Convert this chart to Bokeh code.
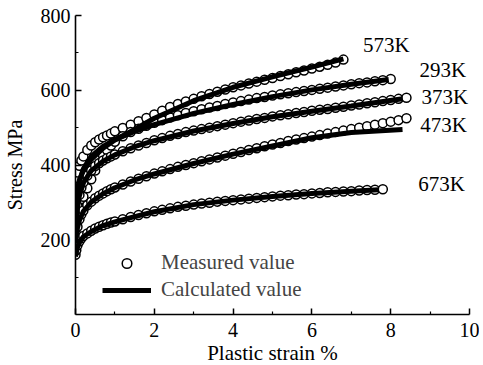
from bokeh.plotting import figure
from bokeh.models import Range1d, FixedTicker, Legend, LegendItem, Label
from bokeh.embed import file_html
from bokeh.resources import INLINE

# ---- data ----
strain = [0, 0.02, 0.05, 0.1, 0.15, 0.2, 0.3, 0.4, 0.5, 0.6,
          0.7, 0.8, 0.9, 1.0, 1.2, 1.4, 1.6, 1.8, 2.0, 2.2,
          2.4, 2.6, 2.8, 3.0, 3.2, 3.4, 3.6, 3.8, 4.0, 4.2,
          4.4, 4.6, 4.8, 5.0, 5.2, 5.4, 5.6, 5.8, 6.0, 6.2,
          6.4, 6.6, 6.8, 7.0, 7.2, 7.4, 7.6, 7.8, 8.0, 8.2,
          8.4]

meas_573 = [350, 365, 380, 398, 412, 423, 440, 452, 461, 468,
            474, 479, 484, 490, 499, 508, 517, 526, 535, 545,
            555, 563, 570, 577, 584, 590, 596, 602, 608, 613,
            618, 623, 628, 633, 638, 643, 648, 653, 658, 663,
            668, 674, 682]
meas_293 = [290, 293, 297, 303, 309, 315, 338, 362, 385, 405,
            425, 440, 452, 462, 477, 488, 497, 505, 513, 520,
            527, 533, 539, 544, 549, 554, 558, 563, 567, 571,
            575, 579, 582, 586, 589, 592, 595, 598, 601, 604,
            607, 610, 613, 616, 619, 621, 624, 627, 630]
meas_373 = [235, 262, 290, 320, 340, 354, 372, 385, 397, 405,
            412, 418, 423, 428, 437, 445, 452, 459, 466, 472,
            478, 483, 488, 492, 496, 500, 504, 508, 512, 516,
            519, 523, 526, 530, 533, 536, 539, 542, 545, 548,
            550, 553, 556, 559, 562, 565, 568, 571, 574, 577,
            580]
meas_473 = [195, 215, 235, 255, 268, 278, 292, 302, 311, 318,
            324, 330, 335, 340, 348, 356, 363, 370, 377, 383,
            389, 395, 400, 405, 410, 415, 420, 425, 430, 435,
            440, 445, 450, 455, 459, 464, 468, 472, 476, 480,
            484, 488, 492, 496, 500, 504, 508, 512, 516, 520,
            525]
meas_673 = [160, 172, 185, 196, 204, 210, 217, 224, 230, 235,
            239, 243, 246, 249, 255, 261, 266, 271, 276, 280,
            284, 288, 291, 294, 297, 299, 302, 304, 306, 308,
            310, 312, 314, 316, 318, 319, 321, 322, 324, 325,
            327, 328, 329, 330, 332, 333, 334, 335]

calc_x_573 = [0, 0.05, 0.1, 0.2, 0.4, 0.7, 1.0, 1.5, 2.0, 3.0, 4.0, 5.0, 6.0, 6.8]
calc_573 = [300, 335, 360, 385, 415, 445, 467, 495, 525, 572, 608, 636, 662, 684]
calc_x_293 = [0, 0.05, 0.1, 0.2, 0.4, 0.7, 1.0, 1.5, 2.0, 3.0, 4.0, 5.0, 6.0, 7.0, 7.95]
calc_293 = [280, 330, 358, 390, 423, 450, 468, 490, 508, 538, 562, 583, 601, 616, 629]
calc_x_373 = [0, 0.05, 0.1, 0.2, 0.4, 0.7, 1.0, 1.5, 2.0, 3.0, 4.0, 5.0, 6.0, 7.0, 8.3]
calc_373 = [230, 285, 318, 352, 385, 410, 427, 449, 465, 491, 511, 529, 544, 558, 577]
calc_x_473 = [0, 0.05, 0.1, 0.2, 0.4, 0.7, 1.0, 1.5, 2.0, 3.0, 4.0, 5.0, 6.0, 7.0, 8.3]
calc_473 = [190, 232, 252, 276, 301, 323, 339, 360, 376, 404, 429, 451, 473, 487, 495]
calc_x_673 = [0, 0.05, 0.1, 0.2, 0.4, 0.7, 1.0, 1.5, 2.0, 3.0, 4.0, 5.0, 6.0, 7.0, 7.7]
calc_673 = [155, 180, 193, 208, 222, 238, 248, 262, 275, 294, 306, 316, 324, 330, 334]

temps = ["573K", "293K", "373K", "473K", "673K"]
measured = [meas_573, meas_293, meas_373, meas_473, meas_673]
calc_x = [calc_x_573, calc_x_293, calc_x_373, calc_x_473, calc_x_673]
calc_y = [calc_573, calc_293, calc_373, calc_473, calc_673]

x_ticks = [0, 2, 4, 6, 8, 10]
x_minor = [1, 3, 5, 7, 9]
y_ticks = [200, 400, 600, 800]
y_minor = [100, 300, 500, 700]
x_title = "Plastic strain %"
y_title = "Stress MPa"

FONT = "Liberation Serif"

p = figure(output_backend="svg", toolbar_location=None,
           frame_width=394, frame_height=299,
           min_border_left=70, min_border_right=10,
           min_border_top=15, min_border_bottom=42,
           x_range=Range1d(0, 10), y_range=Range1d(0, 800))
p.outline_line_color = None
p.grid.visible = False
p.background_fill_color = "white"
p.border_fill_color = "white"

for ax in (p.xaxis[0], p.yaxis[0]):
    ax.axis_line_width = 1.6
    ax.axis_line_color = "black"
    ax.major_tick_in = 6
    ax.major_tick_out = 0
    ax.minor_tick_in = 3
    ax.minor_tick_out = 0
    ax.major_tick_line_width = 1.5
    ax.minor_tick_line_width = 1.2
    ax.major_label_text_font = FONT
    ax.major_label_text_font_size = "20px"
    ax.major_label_text_color = "black"
    ax.axis_label_text_font = FONT
    ax.axis_label_text_font_size = "20px"
    ax.axis_label_text_font_style = "normal"
    ax.axis_label_text_color = "black"

p.xaxis[0].ticker = FixedTicker(ticks=x_ticks, minor_ticks=x_minor)
p.yaxis[0].ticker = FixedTicker(ticks=y_ticks, minor_ticks=y_minor)
p.xaxis[0].axis_label = x_title
p.yaxis[0].axis_label = y_title
p.xaxis[0].axis_label_text_font_size = "21px"
p.xaxis[0].major_label_standoff = 8
p.yaxis[0].major_label_standoff = 5
p.xaxis[0].axis_label_standoff = 1
p.yaxis[0].axis_label_standoff = 12

meas_renderers = []
for vals in measured:
    r = p.scatter(strain[:len(vals)], vals, marker="circle", size=9,
                  fill_color="white", line_color="black", line_width=1.5)
    meas_renderers.append(r)

calc_renderers = []
for xs, ys in zip(calc_x, calc_y):
    r = p.line(xs, ys, line_color="black", line_width=5)
    calc_renderers.append(r)

label_pos = {"573K": (7.30, 720), "293K": (8.73, 653), "373K": (8.78, 581),
             "473K": (8.75, 506), "673K": (8.70, 348)}
for t in temps:
    lx, ly = label_pos[t]
    p.add_layout(Label(x=lx, y=ly, text=t, text_font=FONT, text_font_size="21px",
                       text_baseline="middle", text_align="left", text_color="black"))

common = dict(padding=0, margin=0, spacing=0, glyph_width=49, glyph_height=24,
              label_standoff=10, label_text_font=FONT, label_text_font_size="21px",
              border_line_alpha=0, background_fill_alpha=0)
legend_meas = Legend(items=[LegendItem(label="Measured value", renderers=[meas_renderers[0]])],
                     location=(27, 39), **common)
legend_calc = Legend(items=[LegendItem(label="Calculated value", renderers=[calc_renderers[0]])],
                     location=(27, 12), **common)
p.add_layout(legend_meas)
p.add_layout(legend_calc)

open("out.html", "w").write(file_html(p, INLINE))
